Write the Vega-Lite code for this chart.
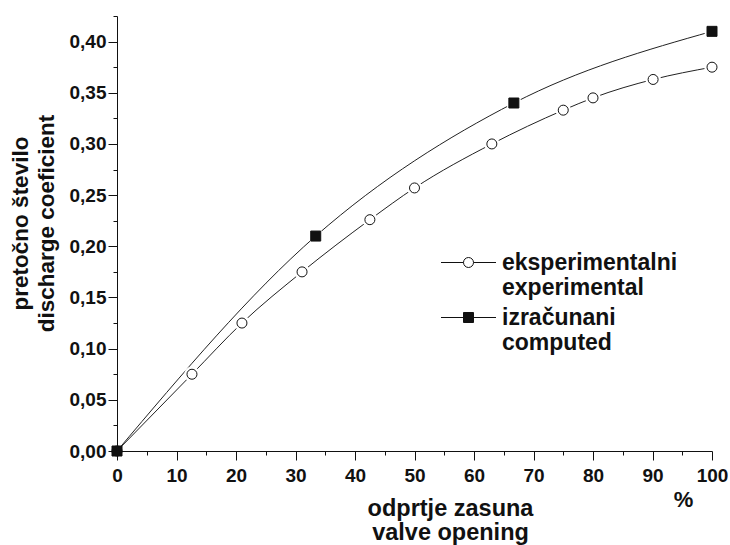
{
  "$schema": "https://vega.github.io/schema/vega-lite/v6.json",
  "width": 595,
  "height": 435,
  "autosize": "none",
  "padding": {"left": 117, "top": 16, "right": 18, "bottom": 94},
  "background": "white",
  "config": {
    "view": {"stroke": null},
    "font": "Liberation Sans",
    "axis": {
      "grid": false,
      "domainColor": "#111",
      "tickColor": "#111",
      "labelColor": "#111",
      "titleColor": "#111",
      "labelFont": "Liberation Sans",
      "titleFont": "Liberation Sans",
      "labelFontWeight": "bold",
      "titleFontWeight": "bold",
      "domainWidth": 1,
      "tickWidth": 1
    }
  },
  "data": {
    "values": [
      {"series": "eksperimentalni", "x": 0, "y": 0},
      {"series": "eksperimentalni", "x": 12.6, "y": 0.075},
      {"series": "eksperimentalni", "x": 21, "y": 0.125},
      {"series": "eksperimentalni", "x": 31.1, "y": 0.175},
      {"series": "eksperimentalni", "x": 42.5, "y": 0.226},
      {"series": "eksperimentalni", "x": 50, "y": 0.257},
      {"series": "eksperimentalni", "x": 63, "y": 0.3},
      {"series": "eksperimentalni", "x": 75, "y": 0.333},
      {"series": "eksperimentalni", "x": 80, "y": 0.345},
      {"series": "eksperimentalni", "x": 90.1, "y": 0.363},
      {"series": "eksperimentalni", "x": 100, "y": 0.375},
      {"series": "izračunani", "x": 0, "y": 0},
      {"series": "izračunani", "x": 33.4, "y": 0.21},
      {"series": "izračunani", "x": 66.7, "y": 0.34},
      {"series": "izračunani", "x": 100, "y": 0.41}
    ]
  },
  "resolve": {"axis": {"x": "independent", "y": "independent"}},
  "layer": [
    {
      "mark": {"type": "line", "interpolate": "monotone", "color": "#222", "strokeWidth": 1},
      "encoding": {
        "x": {
          "field": "x", "type": "quantitative",
          "scale": {"domain": [0, 100], "nice": false, "zero": false},
          "axis": {
            "orient": "bottom",
            "values": [0, 10, 20, 30, 40, 50, 60, 70, 80, 90, 100],
            "tickSize": 9, "labelPadding": 6, "labelFontSize": 19,
            "labelFlush": false, "labelOverlap": false,
            "title": ["odprtje zasuna", "valve opening"],
            "titleFontSize": 23.5, "titleLineHeight": 24.5,
            "titleX": 333, "titleY": 64,
            "titleBaseline": "alphabetic", "titleAlign": "center"
          }
        },
        "y": {
          "field": "y", "type": "quantitative",
          "scale": {"domain": [0, 0.425], "nice": false, "zero": false},
          "axis": {
            "orient": "left",
            "values": [0, 0.05, 0.1, 0.15, 0.2, 0.25, 0.3, 0.35, 0.4],
            "tickSize": 9, "labelPadding": 2, "labelFontSize": 19,
            "labelFlush": false, "labelOverlap": false,
            "labelExpr": "replace(format(datum.value, '.2f'), '.', ',')",
            "title": ["pretočno število", "discharge coeficient"],
            "titleFontSize": 22.5, "titleLineHeight": 26,
            "titleX": -97, "titleY": 207, "titleAngle": -90,
            "titleBaseline": "middle", "titleAlign": "center"
          }
        },
        "detail": {"field": "series", "type": "nominal"}
      }
    },
    {
      "transform": [{"filter": "datum.x > 0"}],
      "mark": {"type": "point", "shape": "circle", "filled": true, "fill": "white", "size": 240, "opacity": 1},
      "encoding": {
        "x": {
          "field": "x", "type": "quantitative",
          "axis": {
            "orient": "bottom",
            "values": [5, 15, 25, 35, 45, 55, 65, 75, 85, 95],
            "tickSize": 4, "labels": false, "domain": false,
            "title": "%", "titleFontSize": 22,
            "titleX": 566, "titleY": 55,
            "titleBaseline": "alphabetic", "titleAlign": "center"
          }
        },
        "y": {
          "field": "y", "type": "quantitative",
          "axis": {
            "orient": "left",
            "values": [0.025, 0.075, 0.125, 0.175, 0.225, 0.275, 0.325, 0.375, 0.425],
            "tickSize": 4, "labels": false, "domain": false, "title": null
          }
        }
      }
    },
    {
      "mark": {"type": "point", "filled": true, "size": 100, "stroke": "#111", "strokeWidth": 1, "opacity": 1},
      "encoding": {
        "x": {"field": "x", "type": "quantitative", "axis": null},
        "y": {"field": "y", "type": "quantitative", "axis": null},
        "shape": {"condition": {"test": "datum.series == 'eksperimentalni'", "value": "circle"}, "value": "square"},
        "fill": {"condition": {"test": "datum.series == 'eksperimentalni'", "value": "white"}, "value": "#111"}
      }
    },
    {
      "mark": {"type": "point", "filled": true, "size": 100, "opacity": 0},
      "encoding": {
        "x": {"field": "x", "type": "quantitative", "axis": null},
        "y": {"field": "y", "type": "quantitative", "axis": null},
        "shape": {
          "field": "series", "type": "nominal",
          "scale": {"domain": ["eksperimentalni", "izračunani"], "range": ["M-5.5,0H-1M1,0H5.5M-1,0A1,1 0 1,1 1,0A1,1 0 1,1 -1,0Z", "M-5.5,0H5.5M-1,-1H1V1H-1Z"]},
          "legend": {
            "title": null,
            "orient": "none",
            "legendX": 340,
            "legendY": 235,
            "padding": 0,
            "symbolSize": 100,
            "symbolStrokeWidth": 1,
            "symbolStrokeColor": "#111",
            "symbolOpacity": 1,
            "labelFont": "Liberation Sans",
            "labelFontWeight": "bold",
            "labelFontSize": 23,
            "labelColor": "#111",
            "labelOffset": 22,
            "labelLimit": 0,
            "rowPadding": 6,
            "labelExpr": "datum.value == 'eksperimentalni' ? ['eksperimentalni', 'experimental'] : ['izračunani', 'computed']",
            "encode": {
              "labels": {
                "lineHeight": {"value": 27}
              }
            }
          }
        },
        "fill": {
          "field": "series", "type": "nominal",
          "scale": {"domain": ["eksperimentalni", "izračunani"], "range": ["white", "#111"]},
          "legend": {
            "title": null,
            "orient": "none",
            "legendX": 340,
            "legendY": 235,
            "padding": 0,
            "symbolSize": 100,
            "symbolStrokeWidth": 1,
            "symbolStrokeColor": "#111",
            "symbolOpacity": 1,
            "labelFont": "Liberation Sans",
            "labelFontWeight": "bold",
            "labelFontSize": 23,
            "labelColor": "#111",
            "labelOffset": 22,
            "labelLimit": 0,
            "rowPadding": 6,
            "labelExpr": "datum.value == 'eksperimentalni' ? ['eksperimentalni', 'experimental'] : ['izračunani', 'computed']",
            "encode": {
              "labels": {
                "lineHeight": {"value": 27}
              }
            }
          }
        }
      }
    }
  ]
}
